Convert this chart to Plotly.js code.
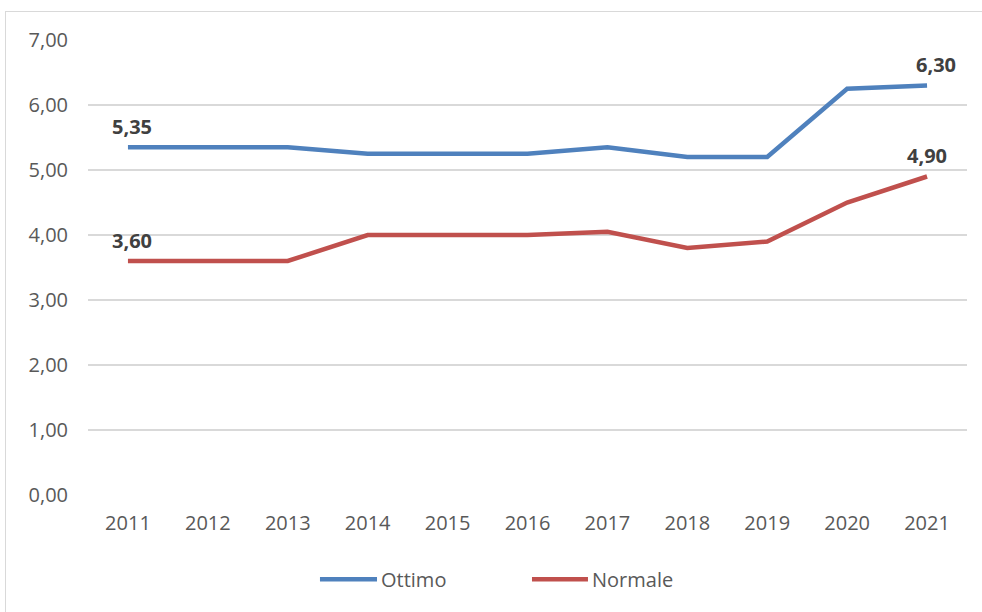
<!DOCTYPE html>
<html>
<head>
<meta charset="utf-8">
<script src="https://cdn.plot.ly/plotly-3.0.1.min.js"></script>
<style>
  html, body { margin: 0; padding: 0; background: #fff; }
  #wrap { position: relative; width: 982px; height: 612px; overflow: hidden; }
  #frame { position: absolute; left: 5px; top: 11px; width: 1000px; height: 700px;
           border-left: 1px solid #d9d9d9; border-top: 1px solid #d9d9d9; pointer-events: none; }
  #chart { position: absolute; left: 0; top: 0; width: 982px; height: 612px; }
</style>
</head>
<body>
<div id="wrap">
  <div id="chart"></div>
  <div id="frame"></div>
</div>
<script>
const years = ['2011','2012','2013','2014','2015','2016','2017','2018','2019','2020','2021'];
const ottimo  = [5.35, 5.35, 5.35, 5.25, 5.25, 5.25, 5.35, 5.20, 5.20, 6.25, 6.30];
const normale = [3.60, 3.60, 3.60, 4.00, 4.00, 4.00, 4.05, 3.80, 3.90, 4.50, 4.90];
const seriesNames = ['Ottimo', 'Normale'];
const seriesColors = ['#4F81BD', '#C0504D'];
const yTicks = [0, 1, 2, 3, 4, 5, 6, 7];

const fmt = v => v.toFixed(2).replace('.', ',');
const FONT = 'Open Sans, sans-serif';
const labelFont = { family: FONT, size: 20, color: '#404040', weight: 'bold' };

const series = [ottimo, normale];
const traces = series.map((vals, i) => ({
  x: years, y: vals, name: seriesNames[i], type: 'scatter', mode: 'lines',
  line: { color: seriesColors[i], width: 4.5 }, hoverinfo: 'skip', cliponaxis: false
}));

// data labels on first and last points (category index positions)
const annotations = [];
series.forEach((vals, i) => {
  const last = vals.length - 1;
  annotations.push({ x: 0, y: vals[0], xref: 'x', yref: 'y', text: '<b>' + fmt(vals[0]) + '</b>',
    showarrow: false, yshift: 21, xshift: 4, font: labelFont });
  annotations.push({ x: last, y: vals[last], xref: 'x', yref: 'y', text: '<b>' + fmt(vals[last]) + '</b>',
    showarrow: false, yshift: 21, xshift: i === 0 ? 9 : 0, font: labelFont });
});

// custom legend (Excel style, long line keys)
const legY = -0.185;
const legPos = [[0.2639, 0.3288], [0.5051, 0.5688]];
const shapes = [];
seriesNames.forEach((n, i) => {
  shapes.push({ type: 'line', xref: 'paper', yref: 'paper', x0: legPos[i][0], x1: legPos[i][1],
    y0: legY, y1: legY, line: { color: seriesColors[i], width: 4.5 } });
  annotations.push({ xref: 'paper', yref: 'paper', x: legPos[i][1] + 0.002, y: legY,
    xanchor: 'left', yanchor: 'middle', text: n, showarrow: false,
    font: { family: FONT, size: 20, color: '#595959' } });
});

const layout = {
  width: 982, height: 612,
  margin: { l: 88, r: 15, t: 40, b: 117 },
  paper_bgcolor: '#ffffff', plot_bgcolor: '#ffffff',
  font: { family: FONT, size: 20, color: '#595959' },
  showlegend: false,
  annotations: annotations,
  shapes: shapes,
  xaxis: { type: 'category', range: [-0.5, 10.5], showgrid: false, zeroline: false,
           showline: false, ticks: '', tickfont: { family: FONT, size: 20, color: '#595959' },
           ticklabelstandoff: 14 },
  yaxis: { range: [0, 7], tickvals: yTicks, ticktext: yTicks.map(fmt),
           showgrid: true, gridcolor: '#d9d9d9', gridwidth: 1.3, zeroline: false,
           showline: false, ticks: '', tickfont: { family: FONT, size: 20, color: '#595959' },
           ticklabelstandoff: 19 }
};

Plotly.newPlot('chart', traces, layout, { displayModeBar: false, staticPlot: true });
</script>
</body>
</html>
